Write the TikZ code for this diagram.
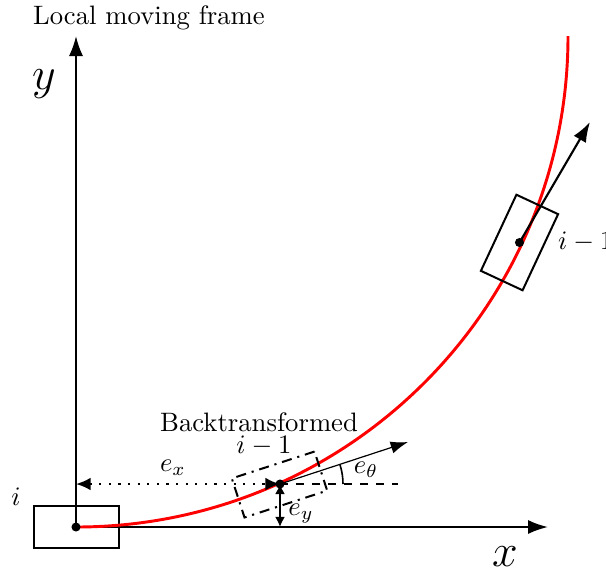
\documentclass[tikz,border=0pt]{standalone}
\usetikzlibrary{arrows.meta}
\begin{document}
\begin{tikzpicture}[x=0.375pt,y=-0.375pt,
  bigtip/.style={-{Latex[length=7.5pt,width=5.3pt]}},
  axis/.style={line width=0.8pt,bigtip},
  carbox/.style={draw,line width=0.75pt,inner sep=0pt,minimum width=31.5pt,minimum height=17.25pt},
  ghostbox/.style={draw,line width=0.75pt,inner sep=0pt,minimum width=32.6pt,minimum height=15.4pt,
    dash pattern=on 3.8pt off 2.2pt on 0.8pt off 2.2pt},
  dotc/.style={circle,fill,inner sep=0pt,minimum size=3.4pt},
  lbl/.style={inner sep=1pt}]
\useasboundingbox (0,0) rectangle (606,577);
% frame
\coordinate (O) at (76,527);
\coordinate (Ytip) at (76,36);
\coordinate (Xtip) at (548,527);
\draw[axis] (O) -- (Ytip);
\draw[axis] (O) -- (Xtip);
\node[lbl] (title) at (149,18) {Local moving frame};
\node[lbl] (ylab) at (44,84) {\LARGE $y$};
\node[lbl] (xlab) at (505,557) {\LARGE $x$};
% car i
\node[carbox,minimum width=31.9pt,minimum height=15.75pt] (cari) at (76.5,527) {};
\node[lbl] (ilab) at (16,497) {$i$};
% path
\draw[red,line width=1.1pt] (O) arc[start angle=90,end angle=0,x radius=492,y radius=491];
\node[dotc] (Odot) at (O) {};
% car i-1
\node[carbox,rotate=65] (car1) at (519.5,242.5) {};
\coordinate (H1) at (590,122);
\draw[line width=0.8pt,bigtip] (car1.center) -- (H1);
\node[dotc] (c1dot) at (car1.center) {};
\node[lbl,anchor=west] (i1lab) at (555,242) {$i-1$};
% backtransformed
\node[ghostbox,rotate=18] (bt) at (279.5,484.5) {};
\coordinate (P) at (280,484);
\coordinate (Ph) at (408,442);
\coordinate (Pd) at (398,484);
\coordinate (Px) at (76,484);
\coordinate (Py) at (280,527);
\draw[line width=0.45pt,-{Latex[length=6.5pt,width=4.6pt]}] (P) -- (Ph);
\draw[line width=0.6pt,dash pattern=on 3pt off 3pt] (P) -- (Pd);
\draw[line width=0.6pt] ([shift={(0:63)}]P) arc[start angle=0,end angle=-18,radius=63];
\draw[line width=0.8pt,dash pattern=on 0.8pt off 2.8pt,{Latex[length=5.5pt,width=4.8pt]}-{Latex[length=5.5pt,width=4.8pt]}] (Px) -- (P);
\draw[line width=0.8pt,{Latex[length=3.8pt,width=3.8pt]}-{Latex[length=3.8pt,width=3.8pt]}] (P) -- (Py);
\node[dotc] (Pdot) at (P) {};
\node[lbl] (btlab) at (259,422) {Backtransformed};
\node[lbl] (bti) at (264,446) {$i-1$};
\node[lbl] (exlab) at (173,468) {$e_x$};
\node[lbl] (etlab) at (366,470) {$e_\theta$};
\node[lbl] (eylab) at (301,514) {$e_y$};
\end{tikzpicture}
\end{document}
